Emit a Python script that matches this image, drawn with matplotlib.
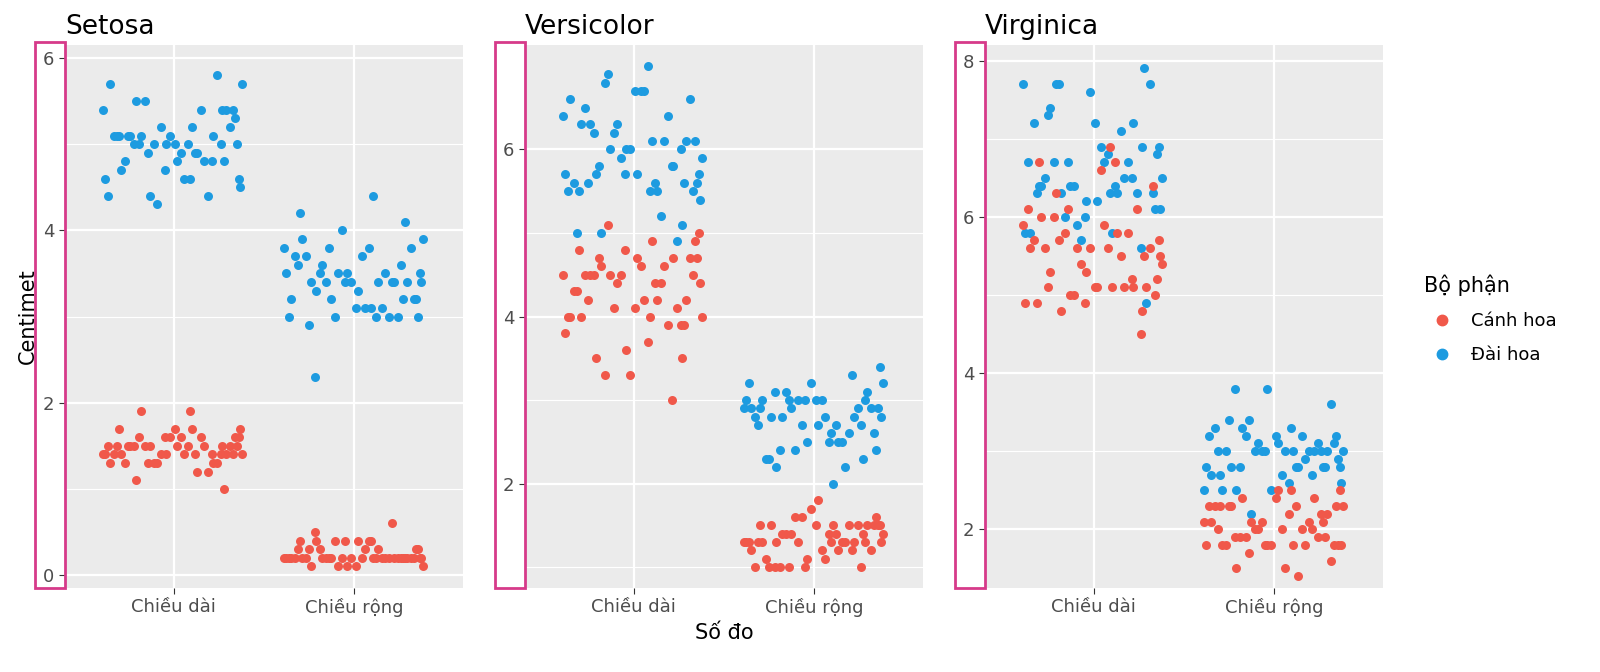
import matplotlib.pyplot as plt
from matplotlib.patches import Rectangle
from matplotlib.lines import Line2D

# iris measurements per species: sepal length, sepal width, petal length, petal width
setosa_sl = [5.1,4.9,4.7,4.6,5.0,5.4,4.6,5.0,4.4,4.9,5.4,4.8,4.8,4.3,5.8,5.7,5.4,5.1,5.7,5.1,5.4,5.1,4.6,5.1,4.8,
             5.0,5.0,5.2,5.2,4.7,4.8,5.4,5.2,5.5,4.9,5.0,5.5,4.9,4.4,5.1,5.0,4.5,4.4,5.0,5.1,4.8,5.1,4.6,5.3,5.0]
setosa_sw = [3.5,3.0,3.2,3.1,3.6,3.9,3.4,3.4,2.9,3.1,3.7,3.4,3.0,3.0,4.0,4.4,3.9,3.5,3.8,3.8,3.4,3.7,3.6,3.3,3.4,
             3.0,3.4,3.5,3.4,3.2,3.1,3.4,4.1,4.2,3.1,3.2,3.5,3.6,3.0,3.4,3.5,2.3,3.2,3.5,3.8,3.0,3.8,3.2,3.7,3.3]
setosa_pl = [1.4,1.4,1.3,1.5,1.4,1.7,1.4,1.5,1.4,1.5,1.5,1.6,1.4,1.1,1.2,1.5,1.3,1.4,1.7,1.5,1.7,1.5,1.0,1.7,1.9,
             1.6,1.6,1.5,1.4,1.6,1.6,1.5,1.5,1.4,1.5,1.2,1.3,1.4,1.3,1.5,1.3,1.3,1.3,1.6,1.9,1.4,1.6,1.4,1.5,1.4]
setosa_pw = [0.2,0.2,0.2,0.2,0.2,0.4,0.3,0.2,0.2,0.1,0.2,0.2,0.1,0.1,0.2,0.4,0.4,0.3,0.3,0.3,0.2,0.4,0.2,0.5,0.2,
             0.2,0.4,0.2,0.2,0.2,0.2,0.4,0.1,0.2,0.2,0.2,0.2,0.1,0.2,0.2,0.3,0.3,0.2,0.6,0.4,0.3,0.2,0.2,0.2,0.2]

versi_sl = [7.0,6.4,6.9,5.5,6.5,5.7,6.3,4.9,6.6,5.2,5.0,5.9,6.0,6.1,5.6,6.7,5.6,5.8,6.2,5.6,5.9,6.1,6.3,6.1,6.4,
            6.6,6.8,6.7,6.0,5.7,5.5,5.5,5.8,6.0,5.4,6.0,6.7,6.3,5.6,5.5,5.5,6.1,5.8,5.0,5.6,5.7,5.7,6.2,5.1,5.7]
versi_sw = [3.2,3.2,3.1,2.3,2.8,2.8,3.3,2.4,2.9,2.7,2.0,3.0,2.2,2.9,2.9,3.1,3.0,2.7,2.2,2.5,3.2,2.8,2.5,2.8,2.9,
            3.0,2.8,3.0,2.9,2.6,2.4,2.4,2.7,2.7,3.0,3.4,3.1,2.3,3.0,2.5,2.6,3.0,2.6,2.3,2.7,3.0,2.9,2.9,2.5,2.8]
versi_pl = [4.7,4.5,4.9,4.0,4.6,4.5,4.7,3.3,4.6,3.9,3.5,4.2,4.0,4.7,3.6,4.4,4.5,4.1,4.5,3.9,4.8,4.0,4.9,4.7,4.3,
            4.4,4.8,5.0,4.5,3.5,3.8,3.7,3.9,5.1,4.5,4.5,4.7,4.4,4.1,4.0,4.4,4.6,4.0,3.3,4.2,4.2,4.2,4.3,3.0,4.1]
versi_pw = [1.4,1.5,1.5,1.3,1.5,1.3,1.6,1.0,1.3,1.4,1.0,1.5,1.0,1.4,1.3,1.4,1.5,1.0,1.5,1.1,1.8,1.3,1.5,1.2,1.3,
            1.4,1.4,1.7,1.5,1.0,1.1,1.0,1.2,1.6,1.5,1.6,1.5,1.3,1.3,1.3,1.2,1.4,1.2,1.0,1.3,1.2,1.3,1.3,1.1,1.3]

virg_sl = [6.3,5.8,7.1,6.3,6.5,7.6,4.9,7.3,6.7,7.2,6.5,6.4,6.8,5.7,5.8,6.4,6.5,7.7,7.7,6.0,6.9,5.6,7.7,6.3,6.7,
           7.2,6.2,6.1,6.4,7.2,7.4,7.9,6.4,6.3,6.1,7.7,6.3,6.4,6.0,6.9,6.7,6.9,5.8,6.8,6.7,6.7,6.3,6.5,6.2,5.9]
virg_sw = [3.3,2.7,3.0,2.9,3.0,3.0,2.5,2.9,2.5,3.6,3.2,2.7,3.0,2.5,2.8,3.2,3.0,3.8,2.6,2.2,3.2,2.8,2.8,2.7,3.3,
           3.2,2.8,3.0,2.8,3.0,2.8,3.8,2.8,2.8,2.6,3.0,3.4,3.1,3.0,3.1,3.1,3.1,2.7,3.2,3.3,3.0,2.5,3.0,3.4,3.0]
virg_pl = [6.0,5.1,5.9,5.6,5.8,6.6,4.5,6.3,5.8,6.1,5.1,5.3,5.5,5.0,5.1,5.3,5.5,6.7,6.9,5.0,5.7,4.9,6.7,4.9,5.7,
           6.0,4.8,4.9,5.6,5.8,6.1,6.4,5.6,5.1,5.6,6.1,5.6,5.5,4.8,5.4,5.6,5.1,5.1,5.9,5.7,5.2,5.0,5.2,5.4,5.1]
virg_pw = [2.5,1.9,2.1,1.8,2.2,2.1,1.7,1.8,1.8,2.5,2.0,1.9,2.1,2.0,2.4,2.3,1.8,2.2,2.3,1.5,2.3,2.0,2.0,1.8,2.1,
           1.8,1.8,1.8,2.1,1.6,1.9,2.0,2.2,1.5,1.4,2.3,2.4,1.8,1.8,2.1,2.4,2.3,1.9,2.3,2.5,2.3,1.9,2.0,2.3,1.8]

# horizontal jitter offsets
jitter = [-0.31,0.12,-0.05,0.36,-0.22,0.27,-0.38,0.08,0.19,-0.14,0.33,-0.27,0.02,-0.09,0.24,-0.35,0.15,-0.18,0.38,
          -0.02,0.29,-0.25,0.06,-0.33,0.21,-0.11,0.35,-0.07,0.10,-0.29,0.17,-0.39,0.31,-0.16,0.04,0.26,-0.21,0.13,
          -0.36,0.22,-0.04,0.37,-0.13,0.01,-0.24,0.28,-0.30,0.09,0.34,-0.19]

species = ['Setosa', 'Versicolor', 'Virginica']
data = {
    'Setosa': (setosa_sl, setosa_sw, setosa_pl, setosa_pw),
    'Versicolor': (versi_sl, versi_sw, versi_pl, versi_pw),
    'Virginica': (virg_sl, virg_sw, virg_pl, virg_pw),
}
ylims = {'Setosa': (-0.15, 6.15), 'Versicolor': (0.75, 7.25), 'Virginica': (1.25, 8.2)}
yticks = {'Setosa': [0, 2, 4, 6], 'Versicolor': [2, 4, 6], 'Virginica': [2, 4, 6, 8]}
xlabels = ['Chiều dài', 'Chiều rộng']
parts = ['Cánh hoa', 'Đài hoa']
red, blue = '#f0584a', '#1d9be0'

W, H = 1600, 672
fig = plt.figure(figsize=(16, 6.72), dpi=100)
lefts = [65, 525, 985]
pw, top, bottom = 398, 45, 588

for i, sp in enumerate(species):
    ax = fig.add_axes([lefts[i] / W, 1 - bottom / H, pw / W, (bottom - top) / H])
    ax.set_facecolor('#ebebeb')
    sl, sw, pl, pwid = data[sp]
    n = len(jitter)
    sh = [jitter[(k + 7 * i) % n] for k in range(n)]
    sh2 = [jitter[(k + 13 + 5 * i) % n] for k in range(n)]
    sh3 = [jitter[(k + 23 + 3 * i) % n] for k in range(n)]
    sh4 = [jitter[(k + 31 + 11 * i) % n] for k in range(n)]
    ax.scatter([1 + s for s in sh], sl, s=42, color=blue, lw=0, zorder=3)
    ax.scatter([2 + s for s in sh2], sw, s=42, color=blue, lw=0, zorder=3)
    ax.scatter([1 + s for s in sh3], pl, s=42, color=red, lw=0, zorder=3)
    ax.scatter([2 + s for s in sh4], pwid, s=42, color=red, lw=0, zorder=3)
    ax.set_xlim(0.4, 2.6)
    ax.set_ylim(*ylims[sp])
    ax.set_xticks([1, 2])
    ax.set_xticklabels(xlabels, fontsize=13, color='#4d4d4d')
    ax.set_yticks(yticks[sp])
    ax.set_yticks([t + 1 for t in yticks[sp][:-1]] + ([yticks[sp][0] - 1] if ylims[sp][0] < yticks[sp][0] - 1 else []),
                  minor=True)
    ax.tick_params(axis='y', labelsize=13, labelcolor='#4d4d4d', color='#333333', length=4)
    ax.tick_params(axis='x', color='#333333', length=4)
    ax.tick_params(which='minor', length=0)
    ax.grid(True, which='major', color='white', lw=1.6)
    ax.grid(True, which='minor', color='white', lw=0.8)
    ax.set_axisbelow(True)
    for s in ax.spines.values():
        s.set_visible(False)
    ax.set_title(sp, loc='left', fontsize=19, pad=8)
    if i == 0:
        ax.set_ylabel('Centimet', fontsize=15)
    if i == 1:
        ax.set_xlabel('Số đo', fontsize=15)
    fig.patches.append(Rectangle(((lefts[i] - 30) / W, 1 - 588 / H), 30 / W, 546 / H,
                                 transform=fig.transFigure, fill=False, edgecolor='#d63a8a', lw=2))

handles = [Line2D([], [], marker='o', ls='', color=c, markersize=7.5) for c in (red, blue)]
leg = fig.legend(handles, parts, title='Bộ phận', loc='upper left', bbox_to_anchor=(1408 / W, 1 - 258 / H),
                 frameon=False, fontsize=13, title_fontsize=15, handletextpad=0.6, labelspacing=0.9)
leg._legend_box.align = 'left'
for h in leg.legend_handles:
    pass

fig.savefig('out.png', dpi=100, facecolor='white')
